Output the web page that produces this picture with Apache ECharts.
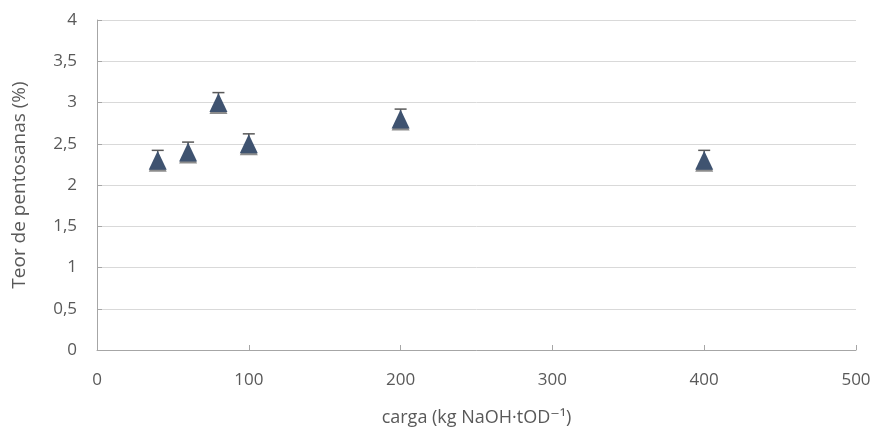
<!DOCTYPE html>
<html>
<head>
<meta charset="utf-8">
<script src="https://cdn.jsdelivr.net/npm/echarts@6/dist/echarts.min.js"></script>
<style>html,body{margin:0;padding:0;background:#fff}#c{width:877px;height:431px}</style>
</head>
<body>
<div id="c"></div>
<script>
const cargas = [40, 60, 80, 100, 200, 400];
const pentosanas = [2.3, 2.4, 3.0, 2.5, 2.8, 2.3];
const erros = [0.12, 0.12, 0.12, 0.12, 0.12, 0.12];
const xTicks = [0, 100, 200, 300, 400, 500];
const yTicks = [0, 0.5, 1, 1.5, 2, 2.5, 3, 3.5, 4];

const pts = cargas.map((x, i) => [x, pentosanas[i]]);
const errData = cargas.map((x, i) => [x, pentosanas[i], erros[i]]);
const font = "'Open Sans', 'DejaVu Sans', sans-serif";
const chart = echarts.init(document.getElementById('c'), null, {renderer: 'canvas'});
chart.setOption({
  animation: false,
  grid: {left: 97, right: 21, top: 20, bottom: 81, containLabel: false, outerBoundsMode: 'none'},
  xAxis: {
    type: 'value', min: 0, max: 500, interval: 100,
    name: 'carga (kg NaOH·tOD⁻¹)', nameLocation: 'middle', nameGap: 59,
    nameTextStyle: {fontFamily: font, fontSize: 18, color: '#595959'},
    axisLine: {show: true, lineStyle: {color: '#A6A6A6', width: 1}},
    axisTick: {show: true, inside: true, length: 5, lineStyle: {color: '#A6A6A6'}},
    axisLabel: {fontFamily: font, fontSize: 17, color: '#595959', margin: 22},
    splitLine: {show: false}
  },
  yAxis: {
    type: 'value', min: 0, max: 4, interval: 0.5,
    name: 'Teor de pentosanas (%)', nameLocation: 'middle', nameGap: 68, nameRotate: 90,
    nameTextStyle: {fontFamily: font, fontSize: 19, color: '#595959'},
    axisLine: {show: true, lineStyle: {color: '#A6A6A6', width: 1}},
    axisTick: {show: true, inside: true, length: 5, lineStyle: {color: '#A6A6A6'}},
    axisLabel: {fontFamily: font, fontSize: 17, color: '#595959', margin: 20,
      formatter: v => String(v).replace('.', ',')},
    splitLine: {show: true, lineStyle: {color: '#D9D9D9', width: 1}}
  },
  series: [
    {
      type: 'custom', z: 1,
      data: errData,
      renderItem: function (params, api) {
        const x = api.value(0), y = api.value(1), e = api.value(2);
        const p0 = api.coord([x, y]);
        const p1 = api.coord([x, y + e]);
        const style = {stroke: '#595959', lineWidth: 1.5};
        return {type: 'group', children: [
          {type: 'line', shape: {x1: p0[0], y1: p0[1], x2: p1[0], y2: p1[1]}, style: style},
          {type: 'line', shape: {x1: p1[0] - 6, y1: p1[1], x2: p1[0] + 6, y2: p1[1]}, style: style}
        ]};
      }
    },
    {
      type: 'scatter', z: 3,
      symbol: 'triangle', symbolSize: [18, 19],
      data: pts,
      itemStyle: {color: '#3F5370', opacity: 1, shadowColor: 'rgba(0,0,0,0.45)', shadowOffsetY: 2, shadowBlur: 0}
    }
  ]
});
</script>
</body>
</html>
